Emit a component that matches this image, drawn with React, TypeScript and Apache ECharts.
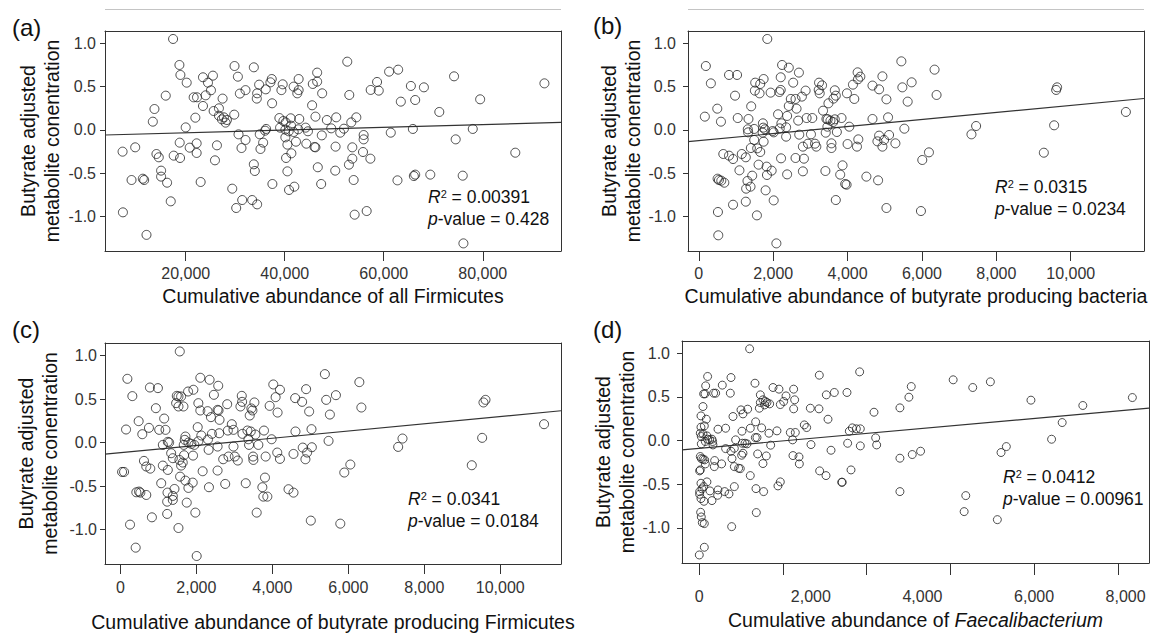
import React, { useEffect, useRef } from 'react';
import * as echarts from 'echarts';

// ---------- data ----------
const yTicks = [-1, -0.5, 0, 0.5, 1];
const aXTicks = [20000, 40000, 60000, 80000];
const bXTicks = [0, 2000, 4000, 6000, 8000, 10000];
const cXTicks = [0, 2000, 4000, 6000, 8000, 10000];
const dXTicks = [0, 1500, 3000, 4500, 6000, 7500];
const dXLabels = [0, 2000, 4000, 6000, 8000];

const panelLetters = ['(a)', '(b)', '(c)', '(d)'];
const xTitles = [
  'Cumulative abundance of all Firmicutes',
  'Cumulative abundance of butyrate producing bacteria',
  'Cumulative abundance of butyrate producing Firmicutes',
  'Cumulative abundance of {i|Faecalibacterium}',
];
const yTitle = 'Butyrate adjusted\nmetabolite conentration';
const rSquared = ['0.00391', '0.0315', '0.0341', '0.0412'];
const pValues = ['0.428', '0.0234', '0.0184', '0.00961'];
const fitIntercepts = [-0.0639, -0.123, -0.117, -0.089];
const fitSlopes = [1.585e-6, 4.06e-5, 4.16e-5, 5.7e-5];
const xMins = [3700, -290, -406, -310];
const xMaxs = [95800, 11970, 11600, 8060];
const yMins = [-1.396, -1.396, -1.397, -1.401];
const yMaxs = [1.142, 1.142, 1.145, 1.139];

const allFirmicutes = [
  [17450,1.05],[18730,0.75],[18930,0.635],[20200,0.546],[15970,0.396],[13690,0.242],[13360,0.096],[20000,0.03],[21950,0.142],[21610,0.377],[22280,0.377],[23490,0.277],[23490,0.608],[24030,0.4],[24500,0.546],[25100,0.458],[25500,0.627],[25640,0.219],[26710,0.25],[27450,0.362],[26710,0.165],[27310,0.123],[27720,0.146],[28050,0.085],[28320,0.115],[29860,0.738],[30540,0.615],[29800,0.177],[30940,0.42],[32080,0.46],[33760,0.723],[34830,0.523],[34430,0.423],[34360,0.362],[36170,0.469],[37380,0.588],[37110,0.55],[37450,0.308],[39590,0.527],[39330,0.46],[41800,0.5],[42810,0.588],[42540,0.423],[42810,0.46],[38920,0.138],[39730,0.104],[40200,0.088],[41210,0.135],[41270,0.05],[42940,0.127],[39060,0.027],[40130,0.004],[40800,-0.015],[41810,-0.023],[42740,0.008],[44220,0.027],[44690,-0.015],[36240,0.012],[36040,-0.008],[30670,-0.05],[32080,-0.115],[31270,-0.208],[34960,-0.05],[35640,-0.146],[35100,-0.219],[40130,-0.085],[40540,-0.169],[41340,-0.269],[40270,-0.323],[40540,-0.477],[40870,-0.692],[41940,-0.654],[42270,-0.135],[44360,-0.158],[33760,-0.396],[33960,-0.473],[37510,-0.623],[33420,-0.808],[34430,-0.858],[31410,-0.808],[30200,-0.9],[29400,-0.677],[23020,-0.6],[25910,-0.35],[26310,-0.177],[22210,-0.154],[22210,-0.265],[20810,-0.204],[18790,-0.146],[18860,-0.323],[17580,-0.296],[16980,-0.823],[16240,-0.608],[15030,-0.469],[15030,-0.538],[14560,-0.315],[14090,-0.277],[11610,-0.577],[11340,-0.562],[9060,-0.577],[9800,-0.2],[7250,-0.25],[7320,-0.95],[12080,-1.21],
  [46010,-0.196],[46200,-0.2],[46550,0.662],[46550,0.558],[45670,0.531],[47560,0.423],[45530,0.285],[46210,0.154],[48510,0.115],[50400,0.146],[49390,0.019],[47490,-0.062],[46680,-0.43],[47360,-0.623],[50270,-0.192],[50200,-0.469],[51210,-0.031],[51960,0.015],[52630,0.788],[53040,0.404],[53440,0.088],[54460,0.146],[53650,-0.2],[53650,-0.331],[52970,-0.4],[53920,-0.577],[55940,-0.058],[55940,-0.108],[55810,-0.254],[57300,-0.331],[54120,-0.977],[56550,-0.935],[57360,0.462],[58650,0.554],[58990,0.454],[61080,0.673],[62910,0.696],[63450,0.327],[61420,-0.031],[62770,-0.581],[65480,0.508],[66350,0.346],[68110,0.492],[65880,0.012],[66080,-0.531],[66350,-0.515],[69400,-0.515],[71220,0.208],[74200,0.619],[74530,-0.108],[75950,-0.527],[76090,-1.308],[79470,0.354],[77980,0.012],[86570,-0.262],[92450,0.538],
];

const butyrateBacteria = [
  [1842,1.05],[190,0.738],[325,0.538],[163,0.154],[497,0.246],[596,0.096],[813,0.635],[1029,0.635],[975,0.396],[1047,0.138],[659,-0.277],[813,-0.296],[921,-0.335],[1156,-0.277],[1264,-0.315],[1093,-0.465],[506,-0.562],[542,-0.577],[605,-0.585],[686,-0.608],[515,-0.946],[524,-1.215],[921,-0.862],[1264,-0.827],[1309,-0.588],[1273,-0.677],[1391,-0.654],[1436,-0.527],[1563,-0.985],[1336,0.127],[1409,0.273],[1318,0.008],[1327,-0.027],[1490,0.012],[1400,-0.208],[1490,-0.115],[1571,-0.212],[1652,-0.254],[1607,-0.4],[1508,0.454],[1517,0.546],[1652,0.531],[1634,0.423],[1743,0.588],[1724,0.077],[1733,0.027],[1778,0.008],[1716,-0.031],[1743,-0.135],[1824,-0.423],[1833,-0.519],[1959,-0.469],[1797,-0.696],[2014,-0.812],[2086,-1.308],[1932,0.431],[1986,-0.012],[2014,-0.027],[2167,0.438],[2131,0.181],[2221,0.077],[2176,0.019],[2240,0.75],[2420,0.719],[2203,0.608],[2203,0.462],[2348,0.031],[2348,-0.077],[2375,0.162],[2420,0.277],[2474,0.358],[2538,0.546],[2601,0.358],[2628,0.246],[2692,0.662],[2673,0.108],[2212,-0.327],[2375,-0.512],[2601,-0.323],[2701,-0.054],[2772,0.385],[2872,0.454],[2799,-0.192],[2827,-0.331],[2799,-0.477],[2899,0.138],[2935,-0.158],[3016,-0.05],[3052,0.138],[3124,-0.158],[3160,-0.192],[3233,0.546],[3314,0.515],[3224,0.462],[3251,0.423],[3341,0.223],[3413,-0.031],[3432,0.127],[3467,0.123],[3458,0.038],[3540,0.108],[3612,0.092],[3657,0.123],[3486,0.308],[3621,0.362],[3684,0.396],[3657,0.458],[3712,-0.023],[3567,-0.154],[3567,-0.208],[3404,-0.473],[3802,-0.515],[3865,-0.408],[3684,-0.808],[3937,-0.623],[3974,-0.631],[3838,0.138],[3983,0.423],[4046,0.038],[4000,-0.162],[4145,0.523],[4181,0.358],[4271,0.665],[4280,0.585],[4343,0.615],[4289,-0.108],[4253,-0.192],[4506,-0.538],
  [4670,0.512],[4848,0.469],[4937,0.619],[5045,0.354],[5089,0.146],[4670,0.127],[4848,-0.065],[4803,-0.131],[4937,-0.192],[4982,-0.115],[5116,-0.058],[5286,-0.154],[4821,-0.581],[5045,-0.9],[5446,0.792],[5473,0.492],[5723,0.55],[5616,0.327],[5527,0.015],[6009,-0.346],[6188,-0.258],[5973,-0.935],[6339,0.696],[6393,0.404],[7331,-0.05],[7456,0.046],[9277,-0.262],[9554,0.054],[9608,0.462],[9634,0.492],[11483,0.208],
];

const butyrateFirmicutes = [
  [1563,1.048],[183,0.733],[314,0.534],[148,0.15],[480,0.246],[576,0.096],[44,-0.338],[96,-0.338],[777,0.633],[987,0.626],[934,0.395],[751,0.169],[1021,0.146],[1187,0.146],[1152,0.276],[1117,-0.027],[1248,0.008],[1283,0],[620,-0.211],[681,-0.276],[786,-0.3],[1117,-0.265],[1248,-0.315],[1074,-0.468],[419,-0.572],[489,-0.564],[524,-0.576],[681,-0.603],[253,-0.944],[402,-1.209],[829,-0.86],[1231,-0.821],[1240,-0.576],[1231,-0.68],[1379,-0.614],[1379,-0.66],[1423,-0.534],[1528,-0.983],[1336,-0.123],[1379,-0.18],[1554,-0.2],[1598,-0.265],[1571,-0.392],[1641,-0.23],[1484,0.537],[1528,0.53],[1598,0.53],[1467,0.453],[1528,0.415],[1659,0.415],[1781,0.587],[1921,0.607],[1711,0.069],[1694,0.031],[1667,-0.027],[1790,0],[1868,-0.015],[1947,-0.027],[1912,-0.15],[1676,-0.146],[1711,-0.438],[1790,-0.522],[1903,-0.461],[1746,-0.691],[1973,-0.806],[2008,-1.305],[2052,0.453],[2035,0.177],[2052,0.015],[2104,0.369],[2104,0.745],[2348,0.722],[2130,0.081],[2165,-0.33],[2296,0.361],[2305,0.035],[2322,-0.084],[2331,-0.514],[2383,0.292],[2461,0.549],[2409,0.1],[2558,0.376],[2584,0.369],[2575,0.653],[2610,0.261],[2601,0.107],[2558,-0.046],[2558,-0.322],[2706,-0.192],[2759,-0.476],[2811,0.441],[2828,0.138],[2846,-0.161],[2933,0.211],[2977,0.146],[2977,-0.046],[3012,-0.161],[3090,-0.207],[3160,0.415],[3195,0.537],[3204,0.468],[3213,0.1],[3300,-0.468],[3344,0.138],[3370,0.038],[3387,-0.027],[3431,0.127],[3448,0.392],[3475,0.369],[3527,0.461],[3405,0.311],[3492,-0.161],[3501,-0.2],[3553,0.092],[3632,-0.027],[3588,-0.806],[3737,-0.514],[3763,-0.622],[3868,-0.622],[3806,-0.403],[3780,0.138],[3824,-0.161],[3929,0.422],[3981,0.038],[4025,0.668],[4086,0.522],[4200,0.607],[4138,0.345],[4129,-0.115],[4200,-0.188],[4426,-0.537],[4557,-0.576],[4601,0.511],[4609,0.127],[4557,-0.131],[4784,0.468],[4889,0.614],[4801,-0.058],[4871,-0.192],[4915,-0.115],
  [4969,0.357],[5031,0.154],[5040,-0.054],[5013,-0.898],[5383,0.787],[5418,0.491],[5674,0.545],[5515,0.322],[5480,0.019],[5894,-0.345],[6053,-0.253],[5789,-0.933],[6291,0.695],[6344,0.403],[7313,-0.05],[7427,0.046],[9251,-0.261],[9524,0.054],[9559,0.461],[9612,0.491],[11154,0.211],
];

const faecalibacterium = [
  [902,1.05],[149,0.733],[114,0.626],[78,0.534],[102,0.534],[257,0.542],[293,0.542],[412,0.634],[568,0.721],[556,0.542],[66,0.389],[30,0.282],[126,0.244],[30,0.153],[90,0.168],[18,0.084],[36,0.046],[66,0.076],[137,0.053],[149,0.015],[185,0.008],[227,0.015],[239,-0.011],[245,-0.05],[36,-0.038],[108,-0.011],[18,-0.183],[36,-0.206],[66,-0.214],[18,-0.336],[6,-0.347],[108,-0.267],[96,-0.221],[275,-0.229],[269,-0.298],[400,-0.267],[335,0.13],[472,0.141],[604,0.275],[651,0.008],[628,-0.088],[472,-0.092],[568,-0.122],[586,-0.206],[628,-0.298],[705,-0.317],[735,-0.321],[628,-0.527],[532,-0.611],[454,-0.584],[329,-0.626],[335,-0.565],[227,-0.687],[84,-0.695],[30,-0.664],[6,-0.584],[6,-0.615],[48,-0.553],[78,-0.527],[137,-0.473],[191,-0.576],[30,-0.489],[24,-0.821],[36,-0.874],[54,-0.939],[90,-0.95],[0,-1.309],[90,-1.221],[580,-0.985],[747,0.351],[783,0.305],[867,0.359],[765,0.107],[771,-0.031],[819,-0.031],[855,-0.038],[759,-0.168],[783,-0.145],[914,-0.401],[1016,-0.55],[1153,-0.584],[1022,-0.824],[998,0.656],[914,0.141],[1010,0.214],[1004,0.034],[1034,0.034],[1117,0.145],[1046,-0.153],[1201,-0.176],[1141,-0.263],[1249,0.084],[1279,-0.053],[1094,0.523],[1094,0.435],[1076,0.37],[1141,0.466],[1183,0.447],[1213,0.435],[1171,0.408],[1261,0.42],[1321,0.607],[1428,0.588],[1392,0.111],[1452,0.412],[1512,0.447],[1554,0.511],[1691,0.588],[1709,0.466],[1691,0.363],[1631,0.092],[1721,0.092],[1673,0.008],[1679,-0.172],[1787,-0.187],[1793,-0.267],[1452,-0.473],[1410,-0.519],[1882,0.179],[1924,0.149],[2002,-0.046],[1990,0.37],[2145,0.363],[2157,-0.347],[2271,-0.401],[2277,0.523],[2307,0.244],[2361,-0.111],[2420,0.55],[2151,0.748],[2552,-0.477],[2562,-0.477],[2647,0.55],[2659,-0.031],[2689,0.107],[2719,-0.336],[2743,0.145],[2815,0.134],[2886,0.134],[2886,-0.061],[2874,0.786],
  [3131,0.324],[3161,0.031],[3179,-0.05],[3596,0.374],[3757,0.496],[3799,0.618],[3596,-0.202],[3817,-0.16],[3966,-0.122],[3596,-0.584],[4550,0.695],[4901,0.607],[5217,0.672],[4776,-0.63],[4747,-0.813],[5342,-0.905],[5408,-0.137],[5503,-0.069],[5944,0.462],[6314,0.015],[6504,0.206],[6874,0.401],[7762,0.492],
];

// ---------- layout ----------
const FONT = '"Liberation Sans", Arial, Helvetica, sans-serif';
const AXIS_COLOR = '#333';
const grids = [
  { left: 105, top: 31, width: 456, height: 220 },
  { left: 688, top: 31, width: 456, height: 220 },
  { left: 105, top: 343, width: 456, height: 221 },
  { left: 682, top: 341, width: 467, height: 222 },
];
const xTickSets = [aXTicks, bXTicks, cXTicks, dXTicks];
const xLabelSets = [aXTicks, bXTicks, cXTicks, dXLabels];
const xLabelMargins = [14, 14, 15, 25];
const xNameGaps = [35, 35, 48, 47];
const yLabelMargins = [9, 12, 8, 12];
const yNameGaps = [41, 43, 43, 40];
const pointSets = [allFirmicutes, butyrateBacteria, butyrateFirmicutes, faecalibacterium];
const symbolSizes = [9, 9, 9, 8];
const letterPos = [[12, 27], [593, 25], [12, 329], [593, 329]];
const statPos = [[428, 197], [995, 187], [408, 499], [1003, 477]];

export default function App() {
  const ref = useRef<HTMLDivElement>(null);
  useEffect(() => {
    if (!ref.current) return;
    const chart = echarts.init(ref.current, undefined, { renderer: 'svg' });

    const lineOnly = { show: true, onZero: false, lineStyle: { color: AXIS_COLOR, width: 1 } };

    const xAxis: any[] = grids.map((_, i) => ({
      type: 'value',
      gridIndex: i,
      position: 'bottom',
      min: xMins[i],
      max: xMaxs[i],
      axisLine: lineOnly,
      splitLine: { show: false },
      axisTick: {
        show: true,
        customValues: xTickSets[i],
        length: i === 3 ? 12 : 10,
        lineStyle: { color: AXIS_COLOR, width: 1 },
      },
      axisLabel: {
        customValues: xLabelSets[i],
        formatter: (v: number) => Number(v).toLocaleString('en-US'),
        fontSize: 16,
        fontFamily: FONT,
        color: '#333',
        margin: xLabelMargins[i],
        alignMaxLabel: i === 3 ? 'right' : undefined,
      },
      name: xTitles[i],
      nameLocation: 'middle',
      nameGap: xNameGaps[i],
      nameTextStyle: {
        fontSize: 19.5,
        fontFamily: FONT,
        color: '#111',
        rich: { i: { fontStyle: 'italic', fontSize: 19.5, fontFamily: FONT, color: '#111' } },
      },
    }));
    grids.forEach((_, i) => {
      xAxis.push({
        type: 'value',
        gridIndex: i,
        position: 'top',
        min: xMins[i],
        max: xMaxs[i],
        axisLine: lineOnly,
        axisTick: { show: false },
        axisLabel: { show: false },
        splitLine: { show: false },
      });
    });

    const yAxis: any[] = grids.map((_, i) => ({
      type: 'value',
      gridIndex: i,
      position: 'left',
      min: yMins[i],
      max: yMaxs[i],
      axisLine: lineOnly,
      splitLine: { show: false },
      axisTick: {
        show: true,
        customValues: yTicks,
        length: 5,
        lineStyle: { color: AXIS_COLOR, width: 1 },
      },
      axisLabel: {
        customValues: yTicks,
        formatter: (v: number) => Number(v).toFixed(1),
        fontSize: 16,
        fontFamily: FONT,
        color: '#333',
        margin: yLabelMargins[i],
      },
      name: yTitle,
      nameLocation: 'middle',
      nameRotate: 90,
      nameGap: yNameGaps[i],
      nameTextStyle: { fontSize: 19.5, lineHeight: 24, fontFamily: FONT, color: '#111' },
    }));
    grids.forEach((_, i) => {
      yAxis.push({
        type: 'value',
        gridIndex: i,
        position: 'right',
        min: yMins[i],
        max: yMaxs[i],
        axisLine: lineOnly,
        axisTick: { show: false },
        axisLabel: { show: false },
        splitLine: { show: false },
      });
    });

    const series: any[] = [];
    pointSets.forEach((pts, i) => {
      series.push({
        type: 'scatter',
        xAxisIndex: i,
        yAxisIndex: i,
        data: pts,
        symbol: 'circle',
        symbolSize: symbolSizes[i],
        itemStyle: { color: 'rgba(0,0,0,0)', borderColor: '#222', borderWidth: 1 },
        silent: true,
      });
      const x0 = xMins[i];
      const x1 = xMaxs[i];
      series.push({
        type: 'line',
        xAxisIndex: i,
        yAxisIndex: i,
        data: [
          [x0, fitIntercepts[i] + fitSlopes[i] * x0],
          [x1, fitIntercepts[i] + fitSlopes[i] * x1],
        ],
        symbol: 'none',
        lineStyle: { color: '#333', width: 1.2 },
        silent: true,
        z: 1,
      });
    });

    const graphic: any[] = [];
    [0, 1].forEach((i) => {
      const g = grids[i];
      graphic.push({
        type: 'line',
        shape: { x1: g.left, y1: 9.5, x2: g.left + g.width, y2: 9.5 },
        style: { stroke: '#c4c4c4', lineWidth: 1 },
      });
    });
    panelLetters.forEach((t, i) => {
      graphic.push({
        type: 'text',
        x: letterPos[i][0],
        y: letterPos[i][1],
        style: { text: t, fontSize: 24, fontFamily: FONT, fill: '#111', verticalAlign: 'middle' },
      });
    });
    rSquared.forEach((r, i) => {
      const rich = {
        i: { fontStyle: 'italic', fontSize: 17.5, fontFamily: FONT, fill: '#111' },
        s: { fontSize: 11, fontFamily: FONT, fill: '#111', verticalAlign: 'top', padding: [0, 0, 6, 0] },
      };
      graphic.push({
        type: 'text',
        x: statPos[i][0],
        y: statPos[i][1],
        style: {
          text: '{i|R}{s|2} = ' + r,
          rich,
          fontSize: 17.5,
          fontFamily: FONT,
          fill: '#111',
          verticalAlign: 'middle',
        },
      });
      graphic.push({
        type: 'text',
        x: statPos[i][0],
        y: statPos[i][1] + 21.6,
        style: {
          text: '{i|p}-value = ' + pValues[i],
          rich,
          fontSize: 17.5,
          fontFamily: FONT,
          fill: '#111',
          verticalAlign: 'middle',
        },
      });
    });

    chart.setOption({
      animation: false,
      backgroundColor: '#fff',
      grid: grids.map((g) => ({ ...g, containLabel: false })),
      xAxis,
      yAxis,
      series,
      graphic,
    } as any);
    return () => chart.dispose();
  }, []);
  return (
    <div
      ref={ref}
      style={{ position: 'fixed', left: 0, top: 0, width: 1153, height: 635, background: '#fff' }}
    />
  );
}
